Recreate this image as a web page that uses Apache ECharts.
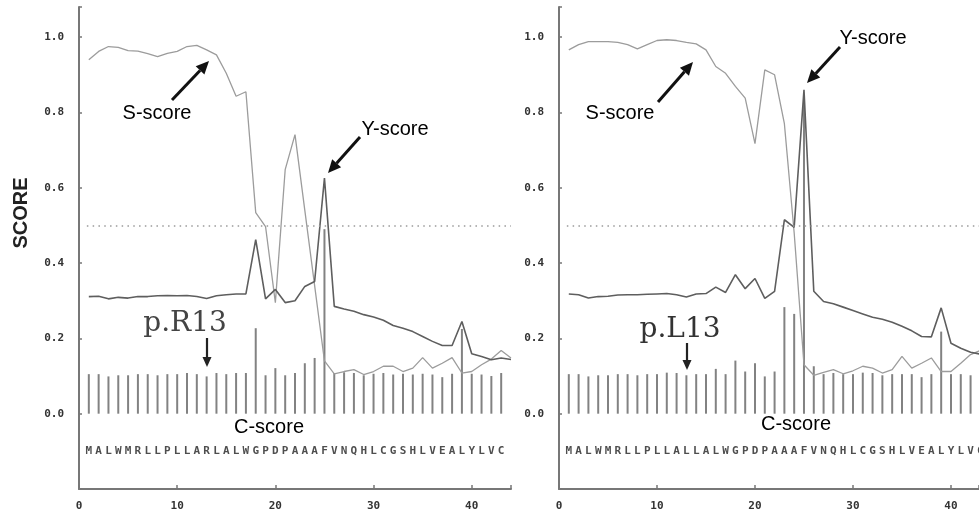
<!DOCTYPE html>
<html>
<head>
<meta charset="utf-8">
<title>SignalP score plot</title>
<script src="https://cdn.jsdelivr.net/npm/echarts@6/dist/echarts.min.js"></script>
<style>
  html, body { margin: 0; padding: 0; background: #fff; }
  #chart { width: 979px; height: 513px; }
</style>
</head>
<body>
<div id="chart"></div>
<script>
// --- Data ---

// sequences, one letter per residue position 1..n
const seqLeft = 'MALWMRLLPLLARLALWGPDPAAAFVNQHLCGSHLVEALYLVC'
const seqRight = 'MALWMRLLPLLALLALWGPDPAAAFVNQHLCGSHLVEALYLVCG'

// C-score bars, positions 1..43
const cLeft = [0.105, 0.105, 0.099, 0.102, 0.102, 0.105, 0.105, 0.102, 0.105, 0.105,
  0.108, 0.105, 0.099, 0.108, 0.105, 0.108, 0.108, 0.227, 0.102, 0.121,
  0.102, 0.108, 0.134, 0.148, 0.49, 0.108, 0.11, 0.108, 0.102, 0.106,
  0.108, 0.104, 0.106, 0.104, 0.106, 0.104, 0.097, 0.106, 0.225, 0.106,
  0.104, 0.1, 0.108]
const cRight = [0.105, 0.105, 0.099, 0.102, 0.102, 0.105, 0.105, 0.102, 0.105, 0.105,
  0.109, 0.108, 0.102, 0.105, 0.105, 0.119, 0.105, 0.141, 0.112, 0.134,
  0.099, 0.112, 0.283, 0.265, 0.83, 0.126, 0.105, 0.108, 0.105, 0.105,
  0.109, 0.108, 0.102, 0.105, 0.105, 0.105, 0.097, 0.105, 0.218, 0.105,
  0.105, 0.102, 0.105]

// S-score line, positions 1..44
const sLeft = [0.94, 0.962, 0.975, 0.973, 0.964, 0.963, 0.956, 0.948, 0.957, 0.962,
  0.975, 0.978, 0.966, 0.953, 0.904, 0.843, 0.855, 0.534, 0.497, 0.295,
  0.648, 0.741, 0.54, 0.34, 0.14, 0.106, 0.112, 0.117, 0.104, 0.112,
  0.126, 0.126, 0.112, 0.121, 0.149, 0.121, 0.134, 0.149, 0.108, 0.112,
  0.13, 0.145, 0.168, 0.148]
const sRight = [0.966, 0.98, 0.988, 0.988, 0.988, 0.986, 0.98, 0.969, 0.98, 0.991,
  0.993, 0.991, 0.986, 0.982, 0.966, 0.922, 0.904, 0.869, 0.838, 0.717,
  0.913, 0.9, 0.77, 0.48, 0.13, 0.102, 0.11, 0.117, 0.106, 0.114,
  0.126, 0.121, 0.108, 0.117, 0.152, 0.121, 0.134, 0.148, 0.112, 0.112,
  0.134, 0.157, 0.168, 0.16]

// Y-score line, positions 1..44
const yLeft = [0.311, 0.312, 0.305, 0.309, 0.307, 0.311, 0.311, 0.313, 0.314, 0.313,
  0.314, 0.311, 0.306, 0.313, 0.316, 0.318, 0.318, 0.462, 0.305, 0.33,
  0.295, 0.3, 0.338, 0.351, 0.626, 0.285, 0.278, 0.272, 0.263, 0.257,
  0.248, 0.234, 0.227, 0.218, 0.205, 0.192, 0.181, 0.181, 0.245, 0.159,
  0.152, 0.143, 0.148, 0.144]
const yRight = [0.318, 0.316, 0.307, 0.311, 0.312, 0.315, 0.316, 0.316, 0.317, 0.318,
  0.319, 0.316, 0.31, 0.318, 0.319, 0.336, 0.322, 0.369, 0.332, 0.359,
  0.306, 0.325, 0.515, 0.495, 0.86, 0.325, 0.298, 0.292, 0.283, 0.274,
  0.265, 0.256, 0.251, 0.243, 0.232, 0.22, 0.205, 0.204, 0.281, 0.187,
  0.174, 0.163, 0.158, 0.155]

const cutoff = 0.5
const seqLevel = -0.1

// --- Helpers ---
const toPoints = (arr) => arr.map((v, i) => [i + 1, v])
const toLetters = (seq) => seq.split('').map((ch, i) => [i + 1, seqLevel, ch])

const monoLabel = {
  fontFamily: 'DejaVu Sans Mono',
  fontWeight: 'bold',
  fontSize: 11,
  color: '#333',
}

// right panel is cut off by the picture edge, so its axis stops short
const makeX = (gridIndex, max) => ({
  type: 'value',
  gridIndex,
  min: 0,
  max,
  interval: 10,
  axisLine: { show: true, onZero: false, lineStyle: { color: '#777', width: 2 } },
  axisTick: { show: true, inside: true, length: 4, lineStyle: { color: '#777', width: 1.5 } },
  axisLabel: {
    ...monoLabel,
    margin: 12,
    formatter: (v) => (Math.abs(v % 10) < 1e-6 ? String(v) : ''),
  },
  splitLine: { show: false },
})

const makeY = (gridIndex) => ({
  type: 'value',
  gridIndex,
  min: -0.2,
  max: 1.08,
  interval: 0.2,
  axisLine: { show: true, onZero: false, lineStyle: { color: '#777', width: 2 } },
  axisTick: { show: true, inside: true, length: 3, lineStyle: { color: '#777', width: 1.5 } },
  axisLabel: {
    ...monoLabel,
    margin: 15,
    formatter: (v) => (v < -0.01 || v > 1.01 ? '' : v.toFixed(1)),
  },
  splitLine: { show: false },
})

const makeSeries = (idx, cArr, sArr, yArr, seq, lineEnd) => [
  {
    name: 'C-score',
    type: 'bar',
    xAxisIndex: idx,
    yAxisIndex: idx,
    data: toPoints(cArr),
    barWidth: 2,
    itemStyle: { color: '#828282' },
    silent: true,
  },
  {
    name: 'S-score',
    type: 'line',
    xAxisIndex: idx,
    yAxisIndex: idx,
    data: toPoints(sArr),
    symbol: 'none',
    lineStyle: { color: '#9c9c9c', width: 1.3 },
    silent: true,
    markLine: {
      silent: true,
      symbol: 'none',
      label: { show: false },
      lineStyle: { color: '#9a9a9a', width: 1.5, type: [1.5, 4.3] },
      data: [[{ coord: [0.8, cutoff] }, { coord: [lineEnd, cutoff] }]],
    },
  },
  {
    name: 'Y-score',
    type: 'line',
    xAxisIndex: idx,
    yAxisIndex: idx,
    data: toPoints(yArr),
    symbol: 'none',
    lineStyle: { color: '#5e5e5e', width: 1.6 },
    silent: true,
  },
  {
    name: 'sequence',
    type: 'scatter',
    xAxisIndex: idx,
    yAxisIndex: idx,
    data: toLetters(seq),
    clip: false,
    symbol: 'rect',
    symbolSize: 1,
    itemStyle: { color: 'rgba(0,0,0,0)' },
    label: {
      show: true,
      position: 'inside',
      formatter: (p) => p.data[2],
      fontFamily: 'DejaVu Sans Mono',
      fontWeight: 'bold',
      fontSize: 11,
      color: '#222',
    },
    silent: true,
  },
]

// Annotation arrows
const arrow = (x1, y1, x2, y2, w, hl, hw, color) => {
  const dx = x2 - x1
  const dy = y2 - y1
  const len = Math.hypot(dx, dy)
  const ux = dx / len
  const uy = dy / len
  const bx = x2 - ux * hl
  const by = y2 - uy * hl
  const px = (-uy * hw) / 2
  const py = (ux * hw) / 2
  return [
    { type: 'line', z: 20, shape: { x1, y1, x2: bx, y2: by }, style: { stroke: color, lineWidth: w } },
    {
      type: 'polygon',
      z: 20,
      shape: { points: [[x2, y2], [bx + px, by + py], [bx - px, by - py]] },
      style: { fill: color },
    },
  ]
}

const label = (text, x, y, extra = {}) => ({
  type: 'text',
  z: 20,
  x,
  y,
  style: {
    text,
    fill: '#000',
    font: '20px "Liberation Sans", Arial, sans-serif',
    align: 'center',
    verticalAlign: 'middle',
    ...extra,
  },
})

const serif = '28px "DejaVu Serif", serif'

const graphic = [
  {
    type: 'text',
    z: 20,
    x: 21,
    y: 213,
    rotation: Math.PI / 2,
    style: {
      text: 'SCORE',
      fill: '#222',
      font: 'bold 20px "Liberation Sans", Arial, sans-serif',
      align: 'center',
      verticalAlign: 'middle',
    },
  },
  label('S-score', 157, 113),
  label('Y-score', 395, 129),
  label('C-score', 269, 427),
  label('S-score', 620, 113),
  label('Y-score', 873, 38),
  label('C-score', 796, 424),
  label('p.R13', 185, 324, { font: serif, fill: '#444' }),
  label('p.L13', 680, 330, { font: serif, fill: '#333' }),
  ...arrow(172, 100, 209, 61, 3, 13, 12, '#111'),
  ...arrow(360, 137, 328, 173, 3, 13, 12, '#111'),
  ...arrow(658, 102, 693, 62, 3, 13, 12, '#111'),
  ...arrow(840, 47, 807, 83, 3, 13, 12, '#111'),
  ...arrow(207, 338, 207, 367, 2.2, 10, 9, '#222'),
  ...arrow(687, 343, 687, 370, 2.2, 10, 9, '#222'),
]

const chart = echarts.init(document.getElementById('chart'))
chart.setOption({
  animation: false,
  backgroundColor: '#fff',
  grid: [
    { left: 79, top: 7, width: 432, height: 482, outerBoundsMode: 'none' },
    { left: 559, top: 7, width: 420, height: 482, outerBoundsMode: 'none' },
  ],
  xAxis: [makeX(0, 44), makeX(1, 42.86)],
  yAxis: [makeY(0), makeY(1)],
  series: [
    ...makeSeries(0, cLeft, sLeft, yLeft, seqLeft, 44),
    ...makeSeries(1, cRight, sRight, yRight, seqRight, 42.86),
  ],
  graphic,
})
window.addEventListener('resize', () => chart.resize())
</script>
</body>
</html>
